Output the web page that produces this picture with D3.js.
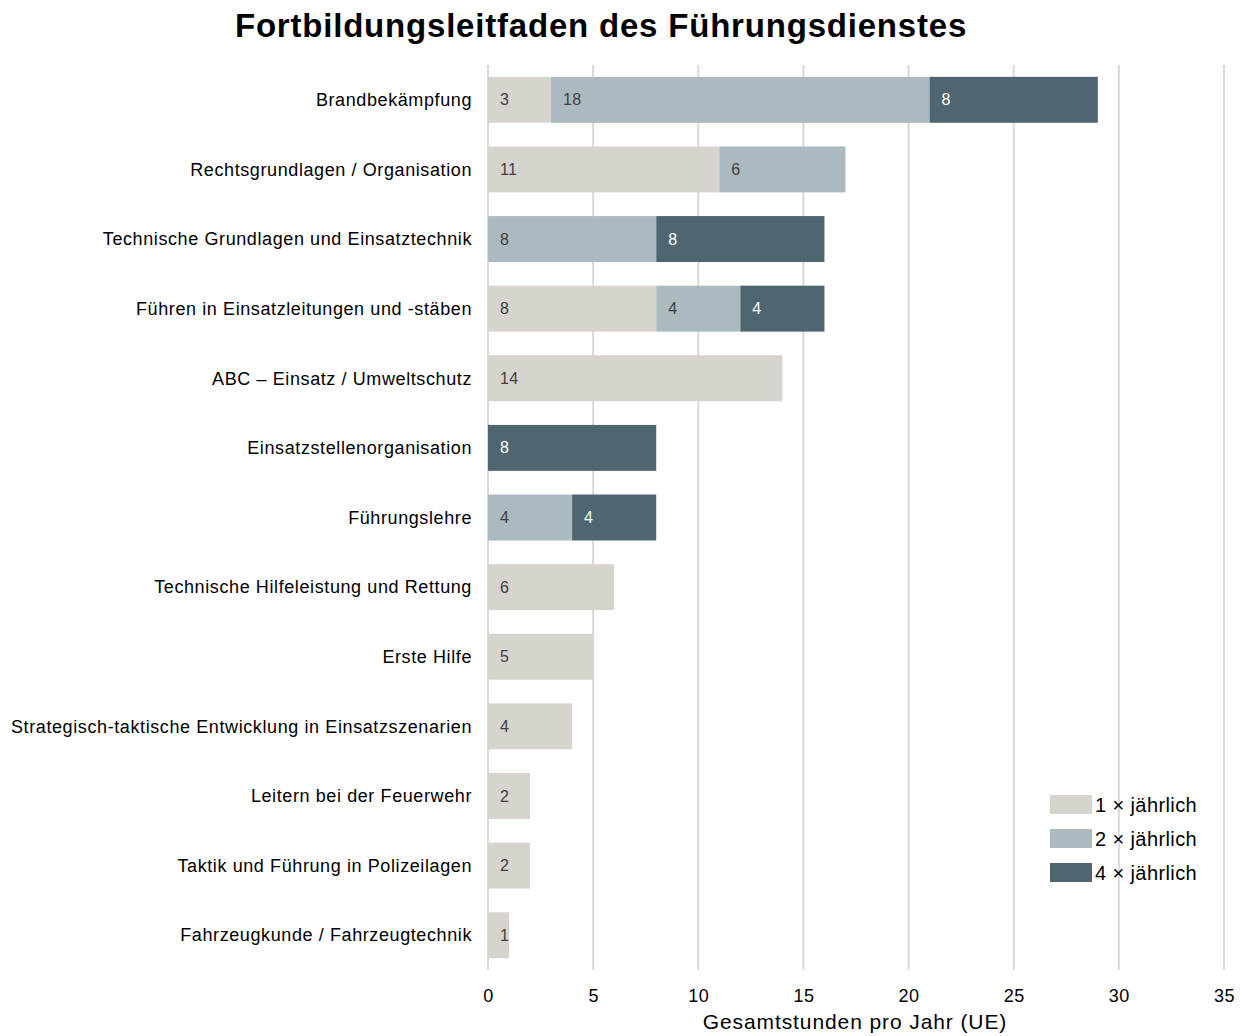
<!DOCTYPE html>
<html>
<head>
<meta charset="utf-8">
<script src="https://cdn.jsdelivr.net/npm/d3@7"></script>
<style>
  body { margin: 0; background: #fff; }
  svg { font-family: "Liberation Sans", Arial, sans-serif; }
</style>
</head>
<body>
<div id="chart"></div>
<script>
// chart values
const categories = [
    "Brandbekämpfung",
    "Rechtsgrundlagen / Organisation",
    "Technische Grundlagen und Einsatztechnik",
    "Führen in Einsatzleitungen und -stäben",
    "ABC – Einsatz / Umweltschutz",
    "Einsatzstellenorganisation",
    "Führungslehre",
    "Technische Hilfeleistung und Rettung",
    "Erste Hilfe",
    "Strategisch-taktische Entwicklung in Einsatzszenarien",
    "Leitern bei der Feuerwehr",
    "Taktik und Führung in Polizeilagen",
    "Fahrzeugkunde / Fahrzeugtechnik"
];
const seriesNames = ["1 × jährlich", "2 × jährlich", "4 × jährlich"];
const einmal = [3, 11, 0, 8, 14, 0, 0, 6, 5, 4, 2, 2, 1];
const zweimal = [18, 6, 8, 4, 0, 0, 4, 0, 0, 0, 0, 0, 0];
const viermal = [8, 0, 8, 4, 0, 8, 4, 0, 0, 0, 0, 0, 0];
const xTicks = [0, 5, 10, 15, 20, 25, 30, 35];

const svgWidth = 1245;
const svgHeight = 1036;
const margin = { top: 65, right: 21, bottom: 66, left: 488 };
const width = svgWidth - margin.left - margin.right;
const height = svgHeight - margin.top - margin.bottom;

const colors = ["#d7d4ce", "#abbabe", "#4f6570"];
const labelColors = ["#404040", "#404040", "#ffffff"];

const svg = d3.select("#chart")
    .append("svg")
    .attr("width", svgWidth)
    .attr("height", svgHeight)
    .append("g")
    .attr("transform", `translate(${margin.left},${margin.top})`);

// build the rows for the stack
const rows = categories.map((c, i) => ({ cat: c, s0: einmal[i], s1: zweimal[i], s2: viermal[i] }));
const stack = d3.stack().keys(["s0", "s1", "s2"])(rows);

const x = d3.scaleLinear()
    .domain([0, 35])
    .range([0, width]);

const y = d3.scaleBand()
    .domain(categories)
    .range([0, height])
    .paddingInner(0.34)
    .paddingOuter(0.17);

// gridlines
svg.append("g")
    .selectAll("line")
    .data(xTicks)
    .enter()
    .append("line")
    .attr("x1", d => x(d))
    .attr("x2", d => x(d))
    .attr("y1", 0)
    .attr("y2", height)
    .attr("stroke", "#d9d9d9")
    .attr("stroke-width", 2);

// bars
const layers = svg.selectAll(".layer")
    .data(stack)
    .enter()
    .append("g")
    .attr("class", "layer");

layers.selectAll("rect")
    .data((d, i) => d.map(p => ({ p: p, k: i })))
    .enter()
    .filter(d => d.p[1] - d.p[0] > 0)
    .append("rect")
    .attr("x", d => x(d.p[0]))
    .attr("y", d => y(d.p.data.cat))
    .attr("width", d => x(d.p[1]) - x(d.p[0]))
    .attr("height", y.bandwidth())
    .attr("fill", d => colors[d.k]);

layers.selectAll("text")
    .data((d, i) => d.map(p => ({ p: p, k: i })))
    .enter()
    .filter(d => d.p[1] - d.p[0] > 0)
    .append("text")
    .attr("x", d => x(d.p[0]) + 12)
    .attr("y", d => y(d.p.data.cat) + y.bandwidth() / 2)
    .attr("dy", "0.35em")
    .attr("font-size", "16px")
    .attr("letter-spacing", "0.3px")
    .attr("fill", d => labelColors[d.k])
    .text(d => d.p[1] - d.p[0]);

// category labels
svg.append("g")
    .selectAll("text")
    .data(categories)
    .enter()
    .append("text")
    .attr("x", -16)
    .attr("y", d => y(d) + y.bandwidth() / 2)
    .attr("dy", "0.35em")
    .attr("text-anchor", "end")
    .attr("font-size", "18px")
    .attr("letter-spacing", "0.6px")
    .attr("fill", "#000")
    .text(d => d);

// x axis
const xAxis = svg.append("g")
    .attr("transform", `translate(0, ${height})`)
    .call(d3.axisBottom(x).tickValues(xTicks).tickSize(0).tickPadding(19));
xAxis.select(".domain").remove();
xAxis.selectAll("text")
    .attr("font-size", "18px")
    .attr("letter-spacing", "0.5px")
    .attr("font-family", "Liberation Sans, Arial, sans-serif")
    .attr("fill", "#000");

svg.append("text")
    .text("Gesamtstunden pro Jahr (UE)")
    .attr("x", 855 - margin.left)
    .attr("y", height + 59)
    .attr("text-anchor", "middle")
    .attr("font-size", "21px")
    .attr("letter-spacing", "0.9px")
    .attr("fill", "#000");

// title
svg.append("text")
    .text("Fortbildungsleitfaden des Führungsdienstes")
    .attr("x", 601 - margin.left)
    .attr("y", -28)
    .attr("text-anchor", "middle")
    .attr("font-size", "33px")
    .attr("letter-spacing", "0.8px")
    .attr("font-weight", "bold")
    .attr("fill", "#000");

// legend
const legend = svg.append("g")
    .attr("transform", `translate(${1050 - margin.left}, ${795 - margin.top})`);
seriesNames.forEach((name, i) => {
    legend.append("rect")
        .attr("x", 0)
        .attr("y", i * 34)
        .attr("width", 42)
        .attr("height", 19)
        .attr("fill", colors[i]);
    legend.append("text")
        .attr("x", 45)
        .attr("y", i * 34 + 10)
        .attr("dy", "0.35em")
        .attr("font-size", "20px")
        .attr("letter-spacing", "0.4px")
        .attr("fill", "#000")
        .text(name);
});
</script>
</body>
</html>
